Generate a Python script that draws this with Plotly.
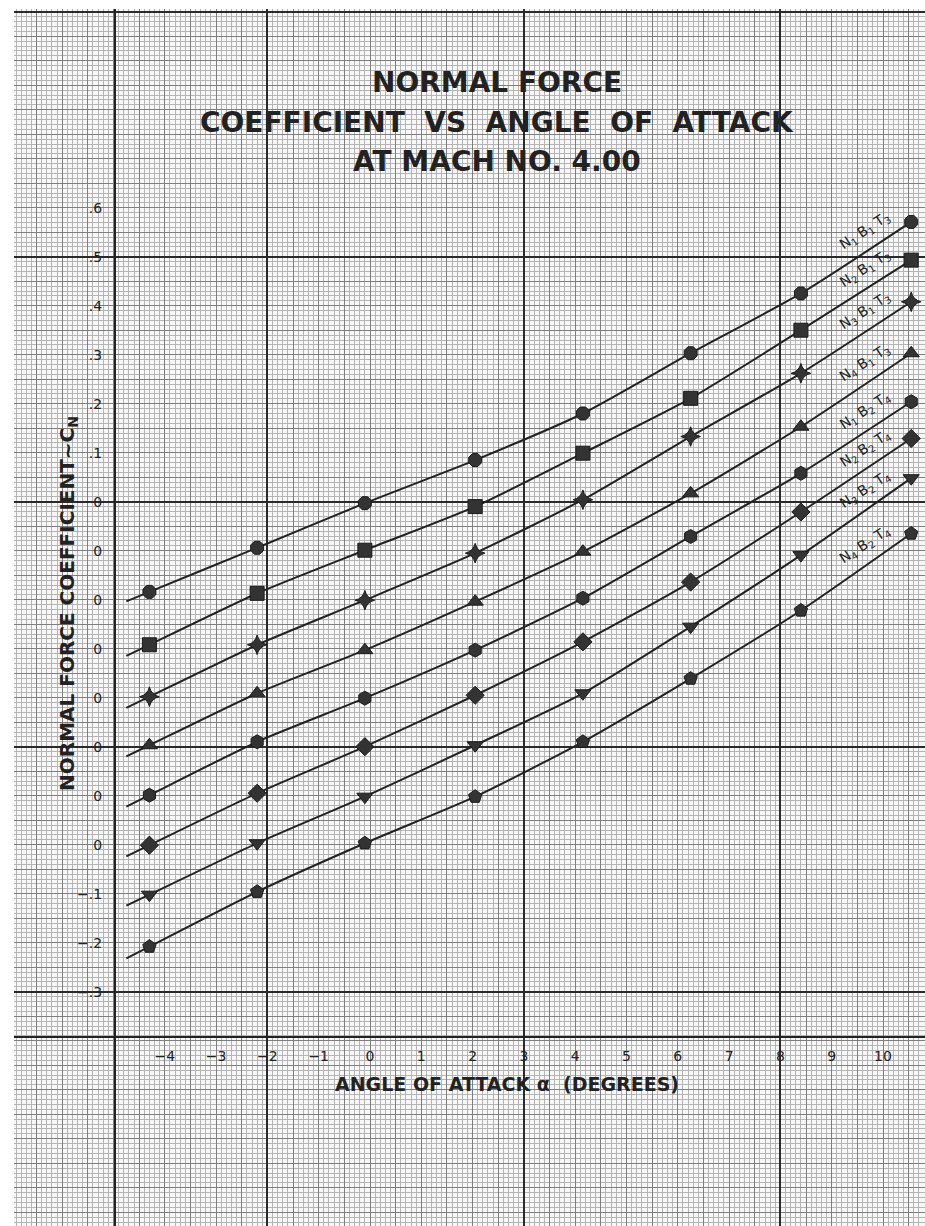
import numpy as np
import plotly.graph_objects as go

# ---------------- data ----------------
alpha = [-4.3, -2.2, -0.1, 2.05, 4.15, 6.25, 8.4, 10.55]   # angle of attack, degrees

series_names = [
    "N<sub>1</sub> B<sub>1</sub> T<sub>3</sub>",
    "N<sub>2</sub> B<sub>1</sub> T<sub>3</sub>",
    "N<sub>3</sub> B<sub>1</sub> T<sub>3</sub>",
    "N<sub>4</sub> B<sub>1</sub> T<sub>3</sub>",
    "N<sub>1</sub> B<sub>2</sub> T<sub>4</sub>",
    "N<sub>2</sub> B<sub>2</sub> T<sub>4</sub>",
    "N<sub>3</sub> B<sub>2</sub> T<sub>4</sub>",
    "N<sub>4</sub> B<sub>2</sub> T<sub>4</sub>",
]
cn_n1b1t3 = [-0.184, -0.094, -0.003, 0.085, 0.180, 0.303, 0.425, 0.571]
cn_n2b1t3 = [-0.192, -0.087, 0.001, 0.090, 0.199, 0.311, 0.450, 0.593]
cn_n3b1t3 = [-0.198, -0.092, -0.001, 0.095, 0.204, 0.333, 0.462, 0.608]
cn_n4b1t3 = [-0.197, -0.091, -0.003, 0.096, 0.198, 0.317, 0.453, 0.603]
cn_n1b2t4 = [-0.199, -0.090, -0.001, 0.097, 0.203, 0.329, 0.458, 0.604]
cn_n2b2t4 = [-0.201, -0.095, 0.000, 0.105, 0.214, 0.336, 0.479, 0.629]
cn_n3b2t4 = [-0.202, -0.097, -0.002, 0.103, 0.209, 0.345, 0.491, 0.648]
cn_n4b2t4 = [-0.208, -0.096, 0.003, 0.098, 0.210, 0.339, 0.478, 0.635]
cn_series = [cn_n1b1t3, cn_n2b1t3, cn_n3b1t3, cn_n4b1t3,
             cn_n1b2t4, cn_n2b2t4, cn_n3b2t4, cn_n4b2t4]
# each curve is plotted against its own zero, staggered by 0.1
curve_offsets = [0.0, -0.1, -0.2, -0.3, -0.4, -0.5, -0.6, -0.7]

x_tick_vals = [-4, -3, -2, -1, 0, 1, 2, 3, 4, 5, 6, 7, 8, 9, 10]
x_tick_text = ["\u22124", "\u22123", "\u22122", "\u22121", "0", "1", "2", "3",
               "4", "5", "6", "7", "8", "9", "10"]
y_tick_vals = [0.6, 0.5, 0.4, 0.3, 0.2, 0.1, 0.0, -0.1, -0.2, -0.3, -0.4,
               -0.5, -0.6, -0.7, -0.8, -0.9, -1.0]
y_tick_text = [".6", ".5", ".4", ".3", ".2", ".1", "0", "0", "0", "0", "0",
               "0", "0", "0", "\u2212.1", "\u2212.2", "\u2212.3"]

# ---------------- layout / style constants ----------------
W, H = 925, 1226
X0_PX, PX_PER_DEG = 370.0, 51.3
Y0_PX, PX_PER_UNIT = 501.7, 490.0
LEFT_PX, TOP_PX = 14.0, 9.0
x_range = [(LEFT_PX - X0_PX) / PX_PER_DEG, (W - X0_PX) / PX_PER_DEG]
y_range = [(Y0_PX - H) / PX_PER_UNIT, (Y0_PX - TOP_PX) / PX_PER_UNIT]
x_dom = [LEFT_PX / W, 1.0]
y_dom = [0.0, 1.0 - TOP_PX / H]

INK = "#222222"
FONT = "DejaVu Sans"
symbols = ["octagon", "square", "star-diamond", "triangle-up",
           "hexagon", "diamond", "triangle-down", "pentagon"]
LINE_START = -4.75
LABEL_ALPHA = 9.65
LABEL_LIFT = 0.042

fig = go.Figure()

# invisible traces so the overlay axes (graph-paper rulings / labels) exist
fig.add_trace(go.Scatter(x=[None], y=[None], xaxis="x2", yaxis="y2",
                         showlegend=False, hoverinfo="skip"))
fig.add_trace(go.Scatter(x=[None], y=[None], xaxis="x3", yaxis="y3",
                         showlegend=False, hoverinfo="skip"))

annotations = []
for name, cn, off, sym in zip(series_names, cn_series, curve_offsets, symbols):
    a = np.array(alpha)
    v = np.array(cn) + off
    slope = (v[1] - v[0]) / (a[1] - a[0])
    a_line = np.concatenate([[LINE_START], a])
    v_line = np.concatenate([[v[0] + slope * (LINE_START - a[0])], v])
    fig.add_trace(go.Scatter(x=a_line, y=v_line, mode="lines",
                             line=dict(color=INK, width=2, shape="spline", smoothing=0.6),
                             showlegend=False, hoverinfo="skip"))
    fig.add_trace(go.Scatter(x=a, y=v, mode="markers", name=name,
                             marker=dict(symbol=sym, size=14, color="#333333",
                                         line=dict(color="#1a1a1a", width=1)),
                             showlegend=False))
    annotations.append(dict(x=LABEL_ALPHA, y=float(np.interp(LABEL_ALPHA, a, v)) + LABEL_LIFT,
                            xref="x", yref="y", text=name, showarrow=False,
                            xanchor="center", yanchor="middle",
                            textangle=-33, font=dict(family=FONT, size=14, color=INK)))

# titles
title_lines = ["NORMAL FORCE", "COEFFICIENT  VS  ANGLE  OF  ATTACK", "AT MACH NO. 4.00"]
for i, t in enumerate(title_lines):
    annotations.append(dict(x=497 / W, y=1 - (82 + 40 * i) / H, xref="paper", yref="paper",
                            text="<b>" + t + "</b>", showarrow=False,
                            xanchor="center", yanchor="middle",
                            font=dict(family=FONT, size=28, color=INK)))
annotations.append(dict(x=507 / W, y=1 - 1084 / H, xref="paper", yref="paper",
                        text="<b>ANGLE OF ATTACK \u03b1  (DEGREES)</b>", showarrow=False,
                        xanchor="center", yanchor="middle",
                        font=dict(family=FONT, size=19, color=INK)))
annotations.append(dict(x=68 / W, y=1 - 604 / H, xref="paper", yref="paper",
                        text="<b>NORMAL FORCE COEFFICIENT~C<sub>N</sub></b>", showarrow=False,
                        xanchor="center", yanchor="middle",
                        textangle=-90, font=dict(family=FONT, size=20, color=INK)))

common = dict(showticklabels=False, ticks="", zeroline=False, showline=False, fixedrange=True)
fig.update_layout(
    width=W, height=H, margin=dict(l=0, r=0, t=0, b=0),
    paper_bgcolor="white", plot_bgcolor="#f7f7f7",
    showlegend=False, annotations=annotations,
    # fine (0.1 in) and half-inch rulings
    xaxis=dict(domain=x_dom, range=x_range, dtick=0.5, tick0=0, showgrid=True,
               gridcolor="#7e7e7e", gridwidth=1,
               minor=dict(dtick=0.1, tick0=0, showgrid=True, gridcolor="#b4b4b4", gridwidth=1),
               **common),
    yaxis=dict(domain=y_dom, range=y_range, dtick=0.05, tick0=0, showgrid=True,
               gridcolor="#7e7e7e", gridwidth=1,
               minor=dict(dtick=0.01, tick0=0, showgrid=True, gridcolor="#b4b4b4", gridwidth=1),
               **common),
    # inch and five-inch rulings
    xaxis2=dict(overlaying="x", anchor="y2", range=x_range, dtick=5, tick0=-2, showgrid=True,
                gridcolor="#2a2a2a", gridwidth=2,
                minor=dict(dtick=1, tick0=0, showgrid=True, gridcolor="#4a4a4a", gridwidth=1.3),
                **common),
    yaxis2=dict(overlaying="y", anchor="x2", range=y_range, dtick=0.5, tick0=0, showgrid=True,
                gridcolor="#2a2a2a", gridwidth=2,
                minor=dict(dtick=0.1, tick0=0, showgrid=True, gridcolor="#4a4a4a", gridwidth=1.3),
                **common),
    # labelled axes drawn inside the graph paper
    xaxis3=dict(overlaying="x", anchor="free", position=(H - 1037) / H, range=x_range,
                tickmode="array", tickvals=x_tick_vals, ticktext=x_tick_text,
                ticks="outside", ticklen=6, tickcolor="rgba(0,0,0,0)",
                tickfont=dict(family=FONT, size=14, color=INK),
                showline=True, linecolor="#222222", linewidth=2,
                showgrid=False, zeroline=False, fixedrange=True),
    yaxis3=dict(overlaying="y", anchor="free", position=115 / W, side="left", range=y_range,
                tickmode="array", tickvals=y_tick_vals, ticktext=y_tick_text,
                ticks="outside", ticklen=9, tickcolor="rgba(0,0,0,0)",
                tickfont=dict(family=FONT, size=14, color=INK),
                showline=True, linecolor="#222222", linewidth=2,
                showgrid=False, zeroline=False, fixedrange=True),
)

fig.write_html("out.html")
